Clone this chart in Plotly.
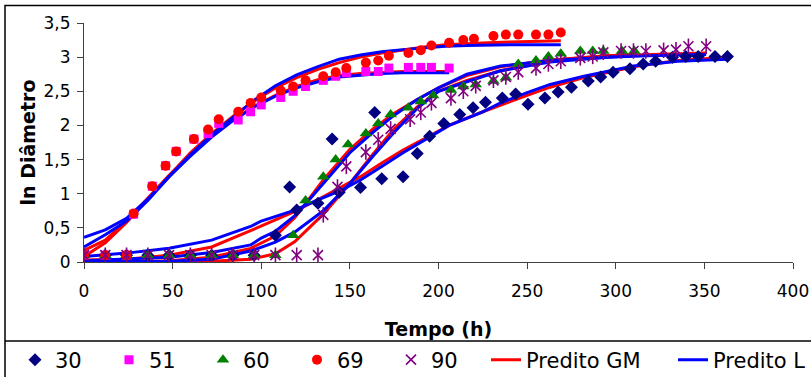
import plotly.graph_objects as go

# ---------------- observed data ----------------
t30 = [0, 12, 24, 36, 48, 60, 72, 84, 96, 108, 116, 120, 132, 140, 144, 156, 164, 168, 180, 188,
       195, 203, 212, 219.5, 226.5, 236, 243.5, 250.5, 260, 267.5, 275, 284.5, 291.5, 298.5, 308,
       315.5, 322.5, 332, 339.5, 346.5, 356, 363]
y30 = [0.1, 0.1, 0.1, 0.1, 0.1, 0.1, 0.1, 0.1, 0.1, 0.39, 1.10, 0.76, 0.86, 1.80, 1.02, 1.09, 2.19, 1.22,
       1.25, 1.59, 1.84, 2.03, 2.16, 2.26, 2.34, 2.40, 2.46, 2.31, 2.40, 2.49, 2.56, 2.65, 2.71, 2.78,
       2.83, 2.90, 2.94, 3.0, 3.01, 3.01, 3.01, 3.01]

t51 = [0, 12, 24, 28, 38.5, 46, 52, 62, 70, 76, 87, 94, 100, 111, 118, 125, 135, 142, 148, 159, 166,
       172, 183, 190, 196, 206]
y51 = [0.1, 0.1, 0.1, 0.7, 1.11, 1.41, 1.62, 1.80, 1.88, 2.03, 2.08, 2.2, 2.3, 2.41, 2.5, 2.57, 2.66,
       2.72, 2.77, 2.79, 2.79, 2.84, 2.85, 2.85, 2.85, 2.84]

t60 = [0, 12, 24, 36, 48, 60, 72, 84, 96, 108, 118, 125, 135, 142, 149, 159, 166, 173, 183, 190, 197,
       207, 214, 221, 231, 238, 245, 255, 262, 269, 280, 287, 293, 303.5, 310.5]
y60 = [0.1, 0.1, 0.1, 0.1, 0.1, 0.1, 0.1, 0.1, 0.1, 0.1, 0.39, 0.90, 1.25, 1.50, 1.72, 1.88, 2.03, 2.16,
       2.26, 2.35, 2.44, 2.52, 2.57, 2.60, 2.65, 2.70, 2.90, 2.95, 3.01, 3.05, 3.09, 3.09, 3.09, 3.09, 3.09]

t69 = [0, 12, 24, 28, 38.5, 46, 52, 62, 70, 76, 87, 94, 100, 111, 118, 125, 135, 142, 148, 159, 166,
       172, 183, 190, 196, 206, 214, 220, 231, 238, 245, 255, 262, 269]
y69 = [0.1, 0.1, 0.1, 0.71, 1.11, 1.41, 1.62, 1.80, 1.94, 2.09, 2.2, 2.33, 2.41, 2.51, 2.57, 2.66, 2.72,
       2.78, 2.84, 2.92, 2.95, 3.02, 3.06, 3.10, 3.17, 3.21, 3.25, 3.27, 3.31, 3.33, 3.33, 3.33, 3.33, 3.36]

t90 = [0, 12, 24, 36, 48, 60, 72, 84, 96, 108, 120, 132, 135, 143, 148, 159, 166, 173, 184, 190, 196,
       207, 214, 221, 231, 238, 245, 255, 262, 269, 280, 287, 293, 303, 310, 317, 327, 334, 341, 351]
y90 = [0.1, 0.1, 0.1, 0.1, 0.1, 0.1, 0.1, 0.1, 0.1, 0.1, 0.1, 0.1, 0.69, 1.10, 1.40, 1.61, 1.79, 1.95,
       2.09, 2.19, 2.33, 2.40, 2.50, 2.58, 2.66, 2.71, 2.78, 2.84, 2.90, 2.94, 2.99, 3.01, 3.07, 3.09,
       3.09, 3.09, 3.10, 3.11, 3.16, 3.16]

# ---------------- predicted curves ----------------
tc_up69 = [0, 12, 24, 36, 48, 60, 72, 84, 96, 108, 120, 132, 144, 156, 168, 180, 192, 204, 216, 228, 240, 252, 269]
gm69 = [0.08, 0.28, 0.58, 0.92, 1.27, 1.6, 1.88, 2.13, 2.36, 2.55, 2.7, 2.82, 2.92, 3.0, 3.06, 3.11, 3.15,
        3.18, 3.2, 3.21, 3.22, 3.23, 3.24]
l69 = [0.22, 0.4, 0.6, 0.9, 1.25, 1.57, 1.86, 2.12, 2.37, 2.58, 2.74, 2.86, 2.97, 3.03, 3.08, 3.11, 3.14,
       3.16, 3.17, 3.18, 3.18, 3.18, 3.18]

tc_up51 = [0, 12, 24, 36, 48, 60, 72, 84, 96, 108, 120, 132, 144, 156, 168, 180, 192, 206]
gm51 = [0.17, 0.32, 0.6, 0.93, 1.27, 1.58, 1.85, 2.08, 2.28, 2.44, 2.57, 2.67, 2.73, 2.76, 2.78, 2.79, 2.79, 2.79]
l51 = [0.36, 0.47, 0.64, 0.92, 1.25, 1.55, 1.83, 2.07, 2.27, 2.43, 2.55, 2.64, 2.71, 2.74, 2.76, 2.77, 2.77, 2.77]

tc30 = [0, 24, 48, 72, 94, 100, 119, 131, 145, 156, 168, 180, 193, 206, 225, 235, 250, 263, 282, 300, 310, 335, 350, 363]
gm30 = [0.03, 0.04, 0.1, 0.22, 0.46, 0.53, 0.74, 0.9, 1.1, 1.25, 1.45, 1.64, 1.82, 2.0, 2.2, 2.3, 2.44, 2.56,
        2.7, 2.8, 2.86, 2.95, 2.98, 3.0]
l30 = [0.08, 0.13, 0.2, 0.32, 0.52, 0.6, 0.76, 0.9, 1.05, 1.2, 1.4, 1.6, 1.8, 2.0, 2.2, 2.33, 2.48, 2.6,
       2.72, 2.82, 2.87, 2.94, 2.96, 2.97]

tc60 = [0, 24, 48, 72, 94, 100, 108, 119, 125, 135, 150, 163, 175, 188, 200, 216, 235, 263, 295, 310]
gm60 = [0.0, 0.0, 0.02, 0.07, 0.2, 0.28, 0.38, 0.65, 0.85, 1.2, 1.65, 1.95, 2.18, 2.38, 2.55, 2.73, 2.86, 2.96, 3.02, 3.04]
l60 = [0.02, 0.04, 0.07, 0.14, 0.25, 0.35, 0.45, 0.68, 0.85, 1.15, 1.6, 1.9, 2.15, 2.38, 2.55, 2.75, 2.87, 2.95, 3.0, 3.02]

tc90 = [0, 48, 72, 94, 108, 119, 135, 150, 163, 175, 188, 200, 216, 235, 263, 295, 318, 351]
gm90 = [0.0, 0.0, 0.01, 0.04, 0.12, 0.3, 0.7, 1.15, 1.58, 1.95, 2.27, 2.5, 2.66, 2.8, 2.95, 3.02, 3.04, 3.06]
l90 = [0.0, 0.01, 0.04, 0.16, 0.29, 0.44, 0.75, 1.15, 1.55, 1.9, 2.25, 2.5, 2.64, 2.8, 2.93, 3.0, 3.02, 3.04]

x_ticks = [0, 50, 100, 150, 200, 250, 300, 350, 400]
y_ticks = [0, 0.5, 1, 1.5, 2, 2.5, 3, 3.5]

FONT = "DejaVu Sans"
RED = "#FF0000"
BLUE = "#0000FF"

fig = go.Figure()

gm_sets = [(tc30, gm30), (tc_up51, gm51), (tc60, gm60), (tc_up69, gm69), (tc90, gm90)]
l_sets = [(tc30, l30), (tc_up51, l51), (tc60, l60), (tc_up69, l69), (tc90, l90)]

for i, (tx, ty) in enumerate(gm_sets):
    fig.add_trace(go.Scatter(x=tx, y=ty, mode="lines", line=dict(color=RED, width=3),
                             name="Predito GM", legendgroup="gm", showlegend=(i == 0),
                             legend="legend2", legendrank=6, legendwidth=142))
for i, (tx, ty) in enumerate(l_sets):
    fig.add_trace(go.Scatter(x=tx, y=ty, mode="lines", line=dict(color=BLUE, width=3),
                             name="Predito L", legendgroup="l", showlegend=(i == 0),
                             legend="legend2", legendrank=7, legendwidth=95))

mw = 49
fig.add_trace(go.Scatter(x=t30, y=y30, mode="markers", name="30", legendrank=1, legendwidth=mw,
                         marker=dict(symbol="diamond", size=10, color="#000080")))
fig.add_trace(go.Scatter(x=t51, y=y51, mode="markers", name="51", legendrank=2, legendwidth=mw,
                         marker=dict(symbol="square", size=9, color="#FF00FF")))
fig.add_trace(go.Scatter(x=t60, y=y60, mode="markers", name="60", legendrank=3, legendwidth=mw,
                         marker=dict(symbol="triangle-up", size=11, color="#008000")))
fig.add_trace(go.Scatter(x=t69, y=y69, mode="markers", name="69", legendrank=4, legendwidth=mw,
                         marker=dict(symbol="circle", size=10, color=RED)))
fig.add_trace(go.Scatter(x=t90, y=y90, mode="markers", name="90", legendrank=5, legendwidth=mw,
                         legendgroup="g90",
                         marker=dict(symbol="x-thin-open", size=10, color="#800080",
                                     line=dict(width=1.6, color="#800080"))))
fig.add_trace(go.Scatter(x=t90, y=y90, mode="markers", name="90", showlegend=False,
                         legendgroup="g90",
                         marker=dict(symbol="line-ns-open", size=11, color="#800080",
                                     line=dict(width=1.6, color="#800080"))))

L, R, T, B = 84, 18, 23, 115
W, H = 811, 377
pw, ph = W - L - R, H - T - B


def px_x(p):
    return (p - L) / pw


def px_y(p):
    return (H - B - p) / ph


fig.update_layout(
    width=W, height=H,
    margin=dict(l=L, r=R, t=T, b=B, autoexpand=False),
    paper_bgcolor="white", plot_bgcolor="white",
    separators=",.",
    font=dict(family=FONT, size=17, color="black"),
    xaxis=dict(range=[0, 400], tickvals=x_ticks, showgrid=False, zeroline=False,
               showline=True, linecolor="#404040", linewidth=1, automargin=False,
               ticks="outside", ticklen=6, tickcolor="#404040", ticklabelstandoff=8,
               title=dict(text="Tempo (h)", font=dict(family=FONT, size=19, weight="bold"), standoff=22)),
    yaxis=dict(range=[0, 3.5], tickvals=y_ticks, showgrid=False, zeroline=False,
               showline=True, linecolor="#404040", linewidth=1, automargin=False,
               ticks="outside", ticklen=6, tickcolor="#404040", ticklabelstandoff=3,
               title=dict(text="ln Diâmetro", font=dict(family=FONT, size=19, weight="bold"), standoff=2)),
    legend=dict(orientation="h", x=px_x(15), y=px_y(360), xanchor="left", yanchor="middle",
                font=dict(family=FONT, size=21), bgcolor="rgba(0,0,0,0)", itemwidth=30,
                traceorder="normal"),
    legend2=dict(orientation="h", x=px_x(486), y=px_y(360), xanchor="left", yanchor="middle",
                 font=dict(family=FONT, size=21), bgcolor="rgba(0,0,0,0)", itemwidth=30,
                 traceorder="normal"),
    showlegend=True,
    shapes=[
        dict(type="rect", xref="paper", yref="paper", x0=px_x(5), x1=px_x(830), y0=px_y(400), y1=px_y(5.5),
             line=dict(color="black", width=1.5), fillcolor="rgba(0,0,0,0)", layer="below"),
        dict(type="line", xref="paper", yref="paper", x0=px_x(5), x1=px_x(830), y0=px_y(341), y1=px_y(341),
             line=dict(color="black", width=1.5)),
    ],
)

fig.write_html("out.html")
